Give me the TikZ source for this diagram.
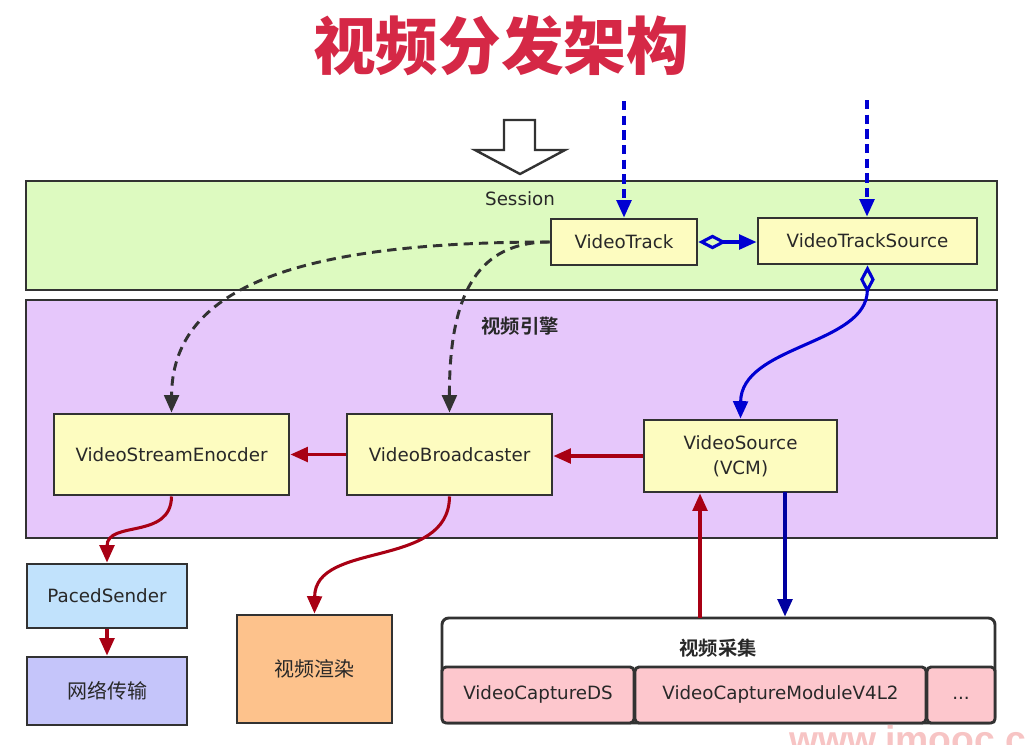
\documentclass[tikz,border=0pt]{standalone}
\usepackage{fontspec}
\setmainfont{DejaVu Sans}
\newfontfamily\cjk{Noto Sans CJK SC}
\newfontfamily\cjkbold{Noto Sans CJK SC Bold}
\newfontfamily\cjkblack{Noto Sans CJK SC Black}
\newfontfamily\wmfont{Liberation Sans}
\usetikzlibrary{arrows.meta}

\definecolor{sessgreen}{RGB}{221,250,192}
\definecolor{engpurple}{RGB}{230,199,251}
\definecolor{boxyellow}{RGB}{253,252,192}
\definecolor{pacedblue}{RGB}{193,226,252}
\definecolor{netviolet}{RGB}{197,197,250}
\definecolor{renderorange}{RGB}{253,194,140}
\definecolor{cappink}{RGB}{253,199,205}
\definecolor{linegray}{RGB}{50,50,50}
\definecolor{textgray}{RGB}{40,40,40}
\definecolor{flowred}{RGB}{168,0,20}
\definecolor{flowblue}{RGB}{0,0,210}
\definecolor{deepblue}{RGB}{0,0,160}
\definecolor{titlered}{RGB}{213,40,70}
\definecolor{wmpink}{RGB}{247,196,196}

\tikzset{
  sz/.style 2 args={minimum width=#1*0.75pt, minimum height=#2*0.75pt},
  panel/.style={draw=linegray, line width=2.2pt, inner sep=0pt},
  box/.style={panel, fill=boxyellow, text=textgray, font=\lbl, align=center},
  capbox/.style={panel, fill=cappink, rounded corners=3pt, text=textgray, font=\lbl,
    text height=10pt, text depth=3pt},
  tip/.style={-{Triangle[length=13pt,width=11pt]}},
  redflow/.style={draw=flowred, line width=2.3pt, tip},
  blueflow/.style={draw=flowblue, line width=2.3pt, tip},
  bluelink/.style={draw=flowblue, line width=2.3pt,
    {Diamond[open,length=21pt,width=11pt,line width=2.3pt]}-{Triangle[length=13pt,width=11pt]}},
  bluedash/.style={blueflow, dash pattern=on 7pt off 4pt},
  graydash/.style={draw=linegray, line width=2.2pt, dash pattern=on 7pt off 4.5pt, tip},
}
\newcommand\lbl{\fontsize{13.7}{18.75}\selectfont}
\newcommand\lblcjk{\cjk\fontsize{15}{18}\selectfont}

\begin{document}
\begin{tikzpicture}[x=0.75pt,y=-0.75pt]
  \useasboundingbox (0,0) rectangle (1027,744);

  % title
  \node[text=titlered, font=\cjkblack\fontsize{47}{50}\selectfont] (title) at (501,46) {视频分发架构};

  % hollow arrow into the session
  \draw[linegray, line width=1.8pt, fill=white, line join=miter]
    (504,120) -- (535,120) -- (535,150) -- (565,150) -- (520,174) -- (475,150) -- (504,150) -- cycle;

  % session layer
  \node[panel, fill=sessgreen, sz={971}{109}] (session) at (511.5,235.5) {};
  \node[text=textgray, font=\lbl] (sessionlabel) at (520,199) {Session};
  \node[box, sz={146}{46}] (vtrack) at (624,242) {VideoTrack};
  \node[box, sz={219}{46}] (vtsrc) at (867.5,241) {VideoTrackSource};

  % video engine layer
  \node[panel, fill=engpurple, sz={971}{238}] (engine) at (511.5,419) {};
  \node[text=textgray, font=\cjkbold\fontsize{14.5}{16}\selectfont] (enginelabel) at (520,326) {视频引擎};
  \node[box, sz={235}{81}] (vse) at (171.5,454.5) {VideoStreamEnocder};
  \node[box, sz={205}{81}] (vbc) at (449.5,454.5) {VideoBroadcaster};
  \node[box, sz={193}{72}] (vsource) at (740.5,456) {VideoSource\\(VCM)};

  % outputs
  \node[panel, fill=pacedblue, text=textgray, font=\lbl, sz={160}{64}] (paced) at (107,596) {PacedSender};
  \node[panel, fill=netviolet, text=textgray, font=\lblcjk, sz={160}{68}] (net) at (107,691) {网络传输};
  \node[panel, fill=renderorange, text=textgray, font=\lblcjk, sz={155}{108}] (render) at (314.5,669) {视频渲染};

  % capture group
  \node[panel, fill=white, rounded corners=5pt, sz={553}{105}] (capture) at (718.5,670.5) {};
  \node[text=textgray, font=\cjkbold\fontsize{14.5}{16}\selectfont] (capturelabel) at (718,648) {视频采集};
  \node[capbox, sz={192}{56}] (capds) at (538,695) {VideoCaptureDS};
  \node[capbox, sz={291}{56}] (capv4l2) at (780.5,695) {VideoCaptureModuleV4L2};
  \node[capbox, sz={68}{56}] (capmore) at (961,695) {...};

  % free ends
  \coordinate (trackin) at (624,101);
  \coordinate (srcin) at (867,100);
  \coordinate (capup) at (700,618);
  \coordinate (capdown) at (785,492);

  % connectors
  \draw[bluedash] (trackin) -- (vtrack.north);
  \draw[bluedash] (srcin) -- (srcin |- vtsrc.north);
  \draw[bluelink] (vtrack.east) -- (vtrack.east -| vtsrc.west);
  \draw[bluelink] (vtsrc.south) .. controls (867,345) and (741,345) .. (vsource.north);

  \draw[graydash] (vtrack.west) .. controls (290,242) and (172,290) .. (vse.north);
  \draw[graydash] (vtrack.west) .. controls (480,242) and (449,290) .. (vbc.north);

  \draw[redflow] (vsource.west) -- (vsource.west -| vbc.east);
  \draw[redflow] (vbc.west) -- (vbc.west -| vse.east);
  \draw[redflow] (vse.south) .. controls (171,540) and (107,520) .. (paced.north);
  \draw[redflow] (paced.south) -- (net.north);
  \draw[redflow] (vbc.south) .. controls (449,570) and (315,540) .. (render.north);
  \draw[redflow] (capup) -- (capup |- vsource.south);
  \draw[draw=deepblue, line width=2.3pt, tip] (capdown) -- (capdown |- capture.north);

  % watermark
  \node[anchor=base west, inner sep=0pt, text=wmpink, font=\wmfont\bfseries\fontsize{28}{30}\selectfont] (watermark) at (789,752) {www.imooc.com};
\end{tikzpicture}
\end{document}
